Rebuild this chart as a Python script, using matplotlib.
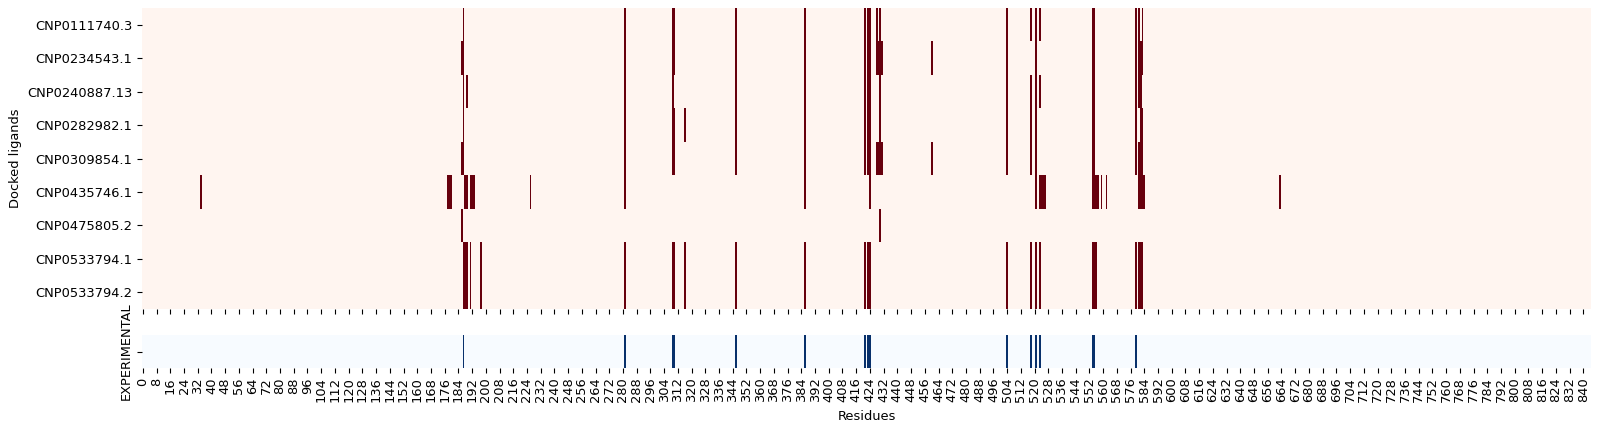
import numpy as np
import matplotlib
matplotlib.use("Agg")
import matplotlib.pyplot as plt
import seaborn as sns

n_residues = 845

ligands = ["CNP0111740.3", "CNP0234543.1", "CNP0240887.13", "CNP0282982.1",
           "CNP0309854.1", "CNP0435746.1", "CNP0475805.2", "CNP0533794.1",
           "CNP0533794.2"]

contacts_CNP0111740_3 = [187, 281, 309, 310, 346, 386, 421, 423, 424, 428, 430,
                         504, 518, 521, 523, 554, 555, 579, 581, 583]
contacts_CNP0234543_1 = [186, 187, 281, 309, 310, 346, 386, 421, 423, 424,
                         428, 429, 430, 431, 460, 504, 521, 554, 555, 579,
                         581, 582, 583]
contacts_CNP0240887_13 = [187, 189, 281, 309, 346, 386, 421, 423, 424, 430,
                          504, 518, 521, 523, 554, 555, 579, 581, 582]
contacts_CNP0282982_1 = [187, 281, 309, 310, 316, 346, 386, 421, 423, 424, 430,
                         504, 518, 521, 554, 555, 579, 582, 583]
contacts_CNP0309854_1 = [186, 187, 281, 309, 310, 346, 386, 421, 423, 424,
                         428, 429, 430, 431, 460, 504, 518, 521, 554, 555,
                         579, 581, 582, 583]
contacts_CNP0435746_1 = [34, 178, 179, 180, 188, 189, 191, 192, 193, 226, 281,
                         386, 424, 521, 523, 524, 525, 526, 554, 555, 556, 557,
                         559, 562, 581, 582, 583, 584, 663]
contacts_CNP0475805_2 = [186, 430]
contacts_CNP0533794_1 = [187, 188, 189, 191, 197, 281, 309, 310, 316, 346, 386,
                         421, 423, 424, 504, 518, 521, 523, 554, 555, 556, 579,
                         581, 582, 583]
contacts_CNP0533794_2 = [187, 188, 189, 191, 197, 281, 309, 310, 316, 346, 386,
                         421, 423, 424, 504, 518, 521, 523, 554, 555, 556, 579,
                         581, 582, 583]

experimental = [187, 281, 309, 310, 346, 386, 421, 423, 424, 504, 518, 521,
                523, 554, 555, 579]

all_contacts = [contacts_CNP0111740_3, contacts_CNP0234543_1,
                contacts_CNP0240887_13, contacts_CNP0282982_1,
                contacts_CNP0309854_1, contacts_CNP0435746_1,
                contacts_CNP0475805_2, contacts_CNP0533794_1,
                contacts_CNP0533794_2]

top = np.zeros((len(ligands), n_residues))
for i, c in enumerate(all_contacts):
    top[i, c] = 1
bottom = np.zeros((1, n_residues))
bottom[0, experimental] = 1

fs = 9.4
plt.rcParams['font.family'] = ['DejaVu Sans']

W, H = 1600, 430
fig = plt.figure(figsize=(16, 4.3), dpi=100)
left, right = 142, 1591
ax1 = fig.add_axes([left / W, 1 - 309 / H, (right - left) / W, 301 / H])
ax2 = fig.add_axes([left / W, 1 - 368 / H, (right - left) / W, 33 / H])

sns.heatmap(top, cmap="Reds", cbar=False, ax=ax1, vmin=0, vmax=1,
            xticklabels=False, yticklabels=False)
sns.heatmap(bottom, cmap="Blues", cbar=False, ax=ax2, vmin=0, vmax=1,
            xticklabels=False, yticklabels=False)

xt = np.arange(0, n_residues, 8)
for ax in (ax1, ax2):
    ax.set_xticks(xt + 0.5)
    ax.tick_params(axis='both', length=3.3, width=0.8, labelsize=fs, pad=3.5)
ax1.set_xticklabels([])
ax2.set_xticklabels([str(v) for v in xt], rotation=90, fontsize=fs)

ax1.set_yticks(np.arange(len(ligands)) + 0.5)
ax1.set_yticklabels(ligands, rotation=0, fontsize=fs)
ax2.set_yticks([0.5])
ax2.set_yticklabels(["EXPERIMENTAL"], rotation=90, va="center", fontsize=fs)

ax1.set_ylabel("Docked ligands", fontsize=fs)
ax1.set_xlabel("")
ax2.set_xlabel("Residues", fontsize=fs, labelpad=5.5)

fig.savefig("out.png", dpi=100)
